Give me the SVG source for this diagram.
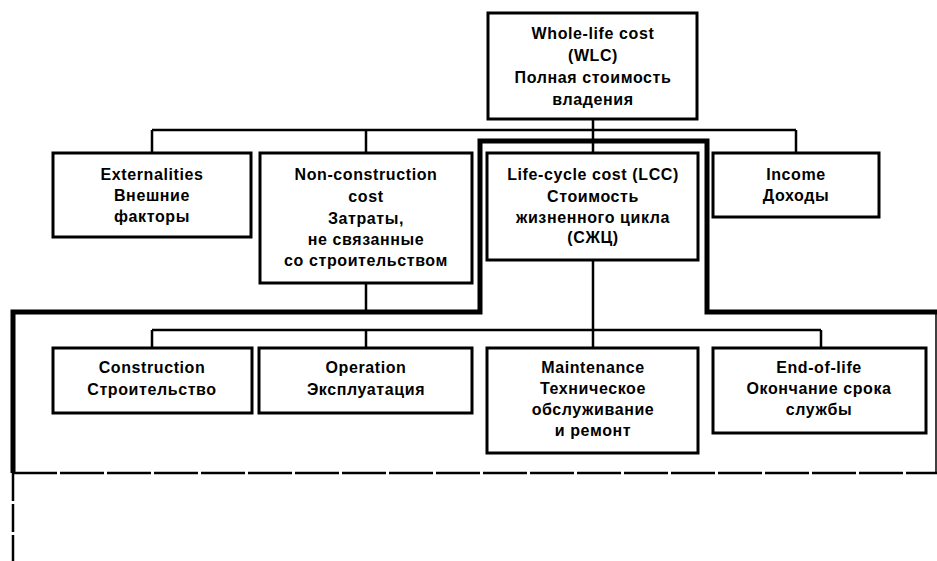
<svg xmlns="http://www.w3.org/2000/svg" width="937" height="561" viewBox="0 0 937 561">
<style>
.box{fill:#fff;stroke:#000;stroke-width:3}
.t{font-family:"Liberation Sans",Arial,sans-serif;font-weight:bold;font-size:16px;letter-spacing:0.6px;text-anchor:middle;fill:#000}
.c{fill:none;stroke:#000;stroke-width:2.5}
.thick{fill:none;stroke:#000;stroke-width:5}
</style>
<rect width="937" height="561" fill="#fff"/>
<g id="connectors">
<path class="c" d="M593 119V130M152 130H796M152 130V153M366 130V153M593 130V153M796 130V153"/>
<path class="c" d="M366 283V312M593 260V330M152 330H821M152 330V348M366 330V348M593 330V348M821 330V348"/>
<path class="thick" d="M13 473V312H480V141H707V312H937"/>
<path fill="none" stroke="#000" stroke-width="1.5" d="M936 312V473"/>
<path fill="none" stroke="#000" stroke-width="2.5" stroke-dasharray="44 3" d="M13 473H937"/>
<path fill="none" stroke="#000" stroke-width="2.5" stroke-dasharray="28 3" d="M13 473V561"/>
</g>
<g id="wlc"><rect class="box" x="488" y="13" width="209" height="106"/>
<text class="t" x="593" y="39">Whole-life cost</text><text class="t" x="593" y="61">(WLC)</text><text class="t" x="593" y="83">Полная стоимость</text><text class="t" x="593" y="105">владения</text></g>
<g id="externalities"><rect class="box" x="53" y="153" width="198" height="84"/>
<text class="t" x="152" y="180">Externalities</text><text class="t" x="152" y="201">Внешние</text><text class="t" x="152" y="222">факторы</text></g>
<g id="nonconstruction"><rect class="box" x="260" y="153" width="212" height="130"/>
<text class="t" x="366" y="180">Non-construction</text><text class="t" x="366" y="202">cost</text><text class="t" x="366" y="224">Затраты,</text><text class="t" x="366" y="245">не связанные</text><text class="t" x="366" y="266">со строительством</text></g>
<g id="lcc"><rect class="box" x="487" y="153" width="211" height="107"/>
<text class="t" x="593" y="180">Life-cycle cost (LCC)</text><text class="t" x="593" y="202">Стоимость</text><text class="t" x="593" y="223">жизненного цикла</text><text class="t" x="593" y="243">(СЖЦ)</text></g>
<g id="income"><rect class="box" x="713" y="153" width="166" height="64"/>
<text class="t" x="796" y="180">Income</text><text class="t" x="796" y="201">Доходы</text></g>
<g id="construction"><rect class="box" x="53" y="348" width="199" height="65"/>
<text class="t" x="152" y="373">Construction</text><text class="t" x="152" y="395">Строительство</text></g>
<g id="operation"><rect class="box" x="259" y="348" width="213" height="65"/>
<text class="t" x="366" y="373">Operation</text><text class="t" x="366" y="395">Эксплуатация</text></g>
<g id="maintenance"><rect class="box" x="487" y="348" width="211" height="105"/>
<text class="t" x="593" y="373">Maintenance</text><text class="t" x="593" y="394">Техническое</text><text class="t" x="593" y="415">обслуживание</text><text class="t" x="593" y="436">и ремонт</text></g>
<g id="endoflife"><rect class="box" x="713" y="348" width="213" height="85"/>
<text class="t" x="819" y="373">End-of-life</text><text class="t" x="819" y="394">Окончание срока</text><text class="t" x="819" y="415">службы</text></g>
</svg>
